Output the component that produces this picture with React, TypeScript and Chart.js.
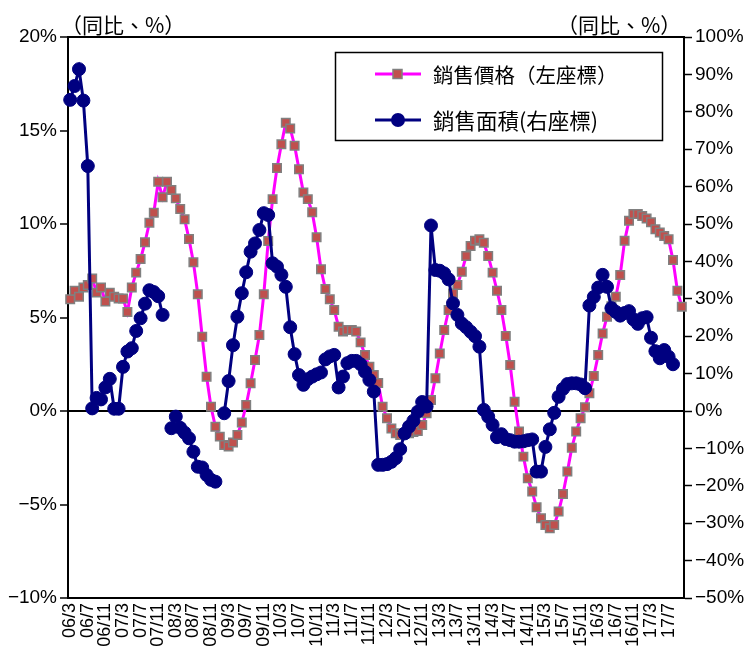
import React, { useEffect, useRef } from 'react';
import { Chart, registerables } from 'chart.js';

Chart.register(...registerables);

// Monthly categories 2006/3 – 2017/10
const CATEGORIES: string[] = [
  '06/3', '06/4', '06/5', '06/6', '06/7', '06/8', '06/9', '06/10', '06/11', '06/12',
  '07/1', '07/2', '07/3', '07/4', '07/5', '07/6', '07/7', '07/8', '07/9', '07/10', '07/11', '07/12',
  '08/1', '08/2', '08/3', '08/4', '08/5', '08/6', '08/7', '08/8', '08/9', '08/10', '08/11', '08/12',
  '09/1', '09/2', '09/3', '09/4', '09/5', '09/6', '09/7', '09/8', '09/9', '09/10', '09/11', '09/12',
  '10/1', '10/2', '10/3', '10/4', '10/5', '10/6', '10/7', '10/8', '10/9', '10/10', '10/11', '10/12',
  '11/1', '11/2', '11/3', '11/4', '11/5', '11/6', '11/7', '11/8', '11/9', '11/10', '11/11', '11/12',
  '12/1', '12/2', '12/3', '12/4', '12/5', '12/6', '12/7', '12/8', '12/9', '12/10', '12/11', '12/12',
  '13/1', '13/2', '13/3', '13/4', '13/5', '13/6', '13/7', '13/8', '13/9', '13/10', '13/11', '13/12',
  '14/1', '14/2', '14/3', '14/4', '14/5', '14/6', '14/7', '14/8', '14/9', '14/10', '14/11', '14/12',
  '15/1', '15/2', '15/3', '15/4', '15/5', '15/6', '15/7', '15/8', '15/9', '15/10', '15/11', '15/12',
  '16/1', '16/2', '16/3', '16/4', '16/5', '16/6', '16/7', '16/8', '16/9', '16/10', '16/11', '16/12',
  '17/1', '17/2', '17/3', '17/4', '17/5', '17/6', '17/7', '17/8', '17/9', '17/10',
];

// Shown x tick labels (every 4 months)
const X_TICK_LABELS: string[] = [
  '06/3', '06/7', '06/11', '07/3', '07/7', '07/11', '08/3', '08/7', '08/11',
  '09/3', '09/7', '09/11', '10/3', '10/7', '10/11', '11/3', '11/7', '11/11',
  '12/3', '12/7', '12/11', '13/3', '13/7', '13/11', '14/3', '14/7', '14/11',
  '15/3', '15/7', '15/11', '16/3', '16/7', '16/11', '17/3', '17/7',
];

// 銷售價格 (left axis, %)
const PRICE_YOY: number[] = [
  5.97, 6.43, 6.11, 6.61, 6.74, 7.09, 6.33, 6.61, 5.85, 6.33,
  6.11, 6.02, 6.02, 5.29, 6.61, 7.4, 8.13, 9.02, 10.07, 10.6, 12.26, 11.43,
  12.26, 11.82, 11.37, 10.8, 10.25, 9.2, 7.95, 6.24, 3.97, 1.83, 0.23, -0.84,
  -1.37, -1.82, -1.9, -1.69, -1.28, -0.62, 0.32, 1.48, 2.73, 4.06, 6.24, 9.09,
  11.33, 13.0, 14.26, 15.42, 15.11, 14.19, 12.93, 11.68, 11.33, 10.63, 9.29, 7.58,
  6.52, 5.97, 5.4, 4.51, 4.25, 4.33, 4.33, 4.25, 3.67, 3.0, 2.37, 1.93,
  1.5, 0.23, -0.39, -0.93, -1.19, -1.28, -1.22, -1.19, -1.12, -1.07, -0.75, -0.12,
  0.59, 1.75, 3.08, 4.33, 5.4, 6.29, 6.74, 7.45, 8.29, 8.82, 9.1, 9.18,
  9.0, 8.29, 7.4, 6.43, 5.4, 4.01, 2.46, 0.5, -1.1, -2.44, -3.6, -4.31,
  -5.15, -5.74, -6.1, -6.27, -6.1, -5.38, -4.44, -3.24, -1.96, -1.1, -0.39, 0.2,
  0.95, 1.87, 2.99, 4.15, 5.04, 5.6, 6.11, 7.27, 9.1, 10.18, 10.53, 10.53,
  10.43, 10.3, 10.09, 9.72, 9.54, 9.36, 9.18, 8.07, 6.43, 5.58,
];

// 銷售面積 (right axis, %)
const AREA_YOY: (number | null)[] = [
  83.2, 86.9, 91.4, 83.0, 65.5, 0.7, 3.5, 3.1, 6.3, 8.6,
  0.6, 0.6, 11.8, 15.9, 16.8, 21.4, 24.8, 28.7, 32.3, 31.8, 30.7, 25.7,
  null, -4.6, -1.5, -4.5, -5.8, -7.3, -10.9, -14.9, -15.1, -17.1, -18.4, -18.9,
  null, -0.6, 8.0, 17.6, 25.2, 31.5, 37.1, 42.6, 44.8, 48.4, 52.9, 52.4,
  39.5, 38.6, 36.4, 33.2, 22.4, 15.2, 9.6, 7.0, 8.5, 9.2, 9.8, 10.3,
  13.8, 14.6, 15.0, 6.3, 9.2, 12.8, 13.4, 13.4, 12.5, 10.5, 8.3, 5.2,
  -14.4, -14.4, -14.2, -13.6, -12.6, -10.2, -6.0, -4.2, -2.6, -0.2, 2.4, 1.2,
  49.6, 37.7, 37.5, 36.8, 35.2, 28.8, 25.7, 23.4, 22.4, 21.2, 20.0, 17.2,
  0.3, -1.5, -3.7, -7.0, -6.2, -7.5, -7.8, -8.2, -8.2, -8.1, -7.8, -7.6,
  -16.2, -16.2, -9.6, -4.9, -0.5, 3.8, 5.9, 7.2, 7.4, 7.4, 7.1, 6.1,
  28.2, 30.5, 33.0, 36.4, 33.2, 27.5, 26.5, 25.5, 26.2, 26.7, 24.5, 23.3,
  24.8, 25.1, 19.6, 16.0, 14.1, 16.3, 14.5, 12.5, null, null,
];

const LEGEND_LABELS = ['銷售價格（左座標）', '銷售面積(右座標)'];
const UNIT_LABEL = '（同比、%）';

const PINK = '#FF00FF';
const SQUARE_FILL = '#C0504D';
const SQUARE_EDGE = '#808080';
const NAVY = '#000080';
const NUM_FONT = '"Liberation Sans", Arial, sans-serif';
const CJK_FONT = '"Noto Sans CJK TC", "Noto Sans CJK JP", sans-serif';

const fmtPct = (v: number) => (v < 0 ? '\u2212' + Math.abs(v) : String(v)) + '%';

const overlayPlugin = {
  id: 'overlay',
  afterDraw(chart: any) {
    const ctx: CanvasRenderingContext2D = chart.ctx;
    ctx.save();
    // unit labels
    ctx.fillStyle = '#000';
    ctx.font = '21px ' + CJK_FONT;
    ctx.textBaseline = 'alphabetic';
    ctx.textAlign = 'left';
    ctx.fillText(UNIT_LABEL, 61, 33);
    ctx.fillText(UNIT_LABEL, 557, 33);

    // legend box
    const bx = 335, by = 52, bw = 327, bh = 88;
    ctx.fillStyle = '#fff';
    ctx.fillRect(bx, by, bw, bh);
    ctx.strokeStyle = '#000';
    ctx.lineWidth = 1.5;
    ctx.strokeRect(bx + 0.5, by + 0.5, bw, bh);

    const y1 = 74, y2 = 120;
    // entry 1
    ctx.strokeStyle = PINK;
    ctx.lineWidth = 3;
    ctx.beginPath();
    ctx.moveTo(375, y1);
    ctx.lineTo(421, y1);
    ctx.stroke();
    ctx.fillStyle = SQUARE_FILL;
    ctx.strokeStyle = SQUARE_EDGE;
    ctx.lineWidth = 1.5;
    ctx.fillRect(393, y1 - 4.5, 9, 9);
    ctx.strokeRect(393, y1 - 4.5, 9, 9);
    // entry 2
    ctx.strokeStyle = NAVY;
    ctx.lineWidth = 3;
    ctx.beginPath();
    ctx.moveTo(375, y2);
    ctx.lineTo(421, y2);
    ctx.stroke();
    ctx.fillStyle = NAVY;
    ctx.beginPath();
    ctx.arc(398, y2, 7, 0, Math.PI * 2);
    ctx.fill();

    ctx.fillStyle = '#000';
    ctx.font = '20.5px ' + CJK_FONT;
    ctx.textBaseline = 'middle';
    ctx.fillText(LEGEND_LABELS[0], 433, y1 + 1);
    ctx.font = '21.5px ' + CJK_FONT;
    ctx.fillText(LEGEND_LABELS[1], 433, y2 + 1);
    ctx.restore();
  },
};

export default function App() {
  const canvasRef = useRef<HTMLCanvasElement | null>(null);

  useEffect(() => {
    if (!canvasRef.current) return;
    const chart = new Chart(canvasRef.current, {
      type: 'line',
      data: {
        labels: CATEGORIES,
        datasets: [
          {
            label: LEGEND_LABELS[0],
            data: PRICE_YOY,
            yAxisID: 'y',
            borderColor: PINK,
            borderWidth: 3,
            pointStyle: 'rect',
            pointRadius: 6,
            pointBackgroundColor: SQUARE_FILL,
            pointBorderColor: SQUARE_EDGE,
            pointBorderWidth: 1.5,
            tension: 0,
            order: 1,
          },
          {
            label: LEGEND_LABELS[1],
            data: AREA_YOY,
            yAxisID: 'y2',
            borderColor: NAVY,
            borderWidth: 3,
            pointStyle: 'circle',
            pointRadius: 6.5,
            pointBackgroundColor: NAVY,
            pointBorderColor: NAVY,
            pointBorderWidth: 1,
            spanGaps: false,
            tension: 0,
            order: 0,
          },
        ],
      },
      options: {
        responsive: false,
        animation: false,
        events: [],
        layout: { padding: { top: 37, left: 0, right: 0, bottom: 0 } },
        plugins: {
          legend: { display: false },
          tooltip: { enabled: false },
          title: { display: false },
        },
        scales: {
          x: {
            type: 'category',
            offset: true,
            grid: { display: false, drawTicks: false },
            border: { display: true, color: '#000', width: 2 },
            ticks: {
              autoSkip: false,
              minRotation: 90,
              maxRotation: 90,
              padding: 5,
              color: '#000',
              font: { family: NUM_FONT, size: 18 },
              callback: (_v: any, i: number) =>
                X_TICK_LABELS.includes(CATEGORIES[i]) && i % 4 === 0 ? CATEGORIES[i] : null,
            },
            afterFit: (s: any) => {
              s.height = 60;
            },
          },
          y: {
            position: 'left',
            min: -10,
            max: 20,
            ticks: {
              stepSize: 5,
              padding: 3,
              color: '#000',
              font: { family: NUM_FONT, size: 19 },
              callback: (v: any) => fmtPct(Number(v)),
            },
            grid: {
              color: (c: any) =>
                c.tick && (c.tick.value === 0 || c.tick.value === 20) ? '#000' : 'rgba(0,0,0,0)',
              lineWidth: 2,
              tickColor: '#000',
              tickWidth: 1.5,
              tickLength: 8,
            },
            border: { display: true, color: '#000', width: 2 },
            afterFit: (s: any) => {
              s.width = 68;
            },
          },
          y2: {
            position: 'right',
            min: -50,
            max: 100,
            ticks: {
              stepSize: 10,
              padding: 3,
              color: '#000',
              font: { family: NUM_FONT, size: 19 },
              callback: (v: any) => fmtPct(Number(v)),
            },
            grid: {
              drawOnChartArea: false,
              tickColor: '#000',
              tickWidth: 1.5,
              tickLength: 8,
            },
            border: { display: true, color: '#000', width: 2 },
            afterFit: (s: any) => {
              s.width = 61;
            },
          },
        },
      },
      plugins: [overlayPlugin],
    });
    return () => chart.destroy();
  }, []);

  return (
    <div style={{ position: 'absolute', left: 0, top: 0, width: 745, height: 658, background: '#fff' }}>
      <canvas ref={canvasRef} width={745} height={658} style={{ display: 'block' }} />
    </div>
  );
}
